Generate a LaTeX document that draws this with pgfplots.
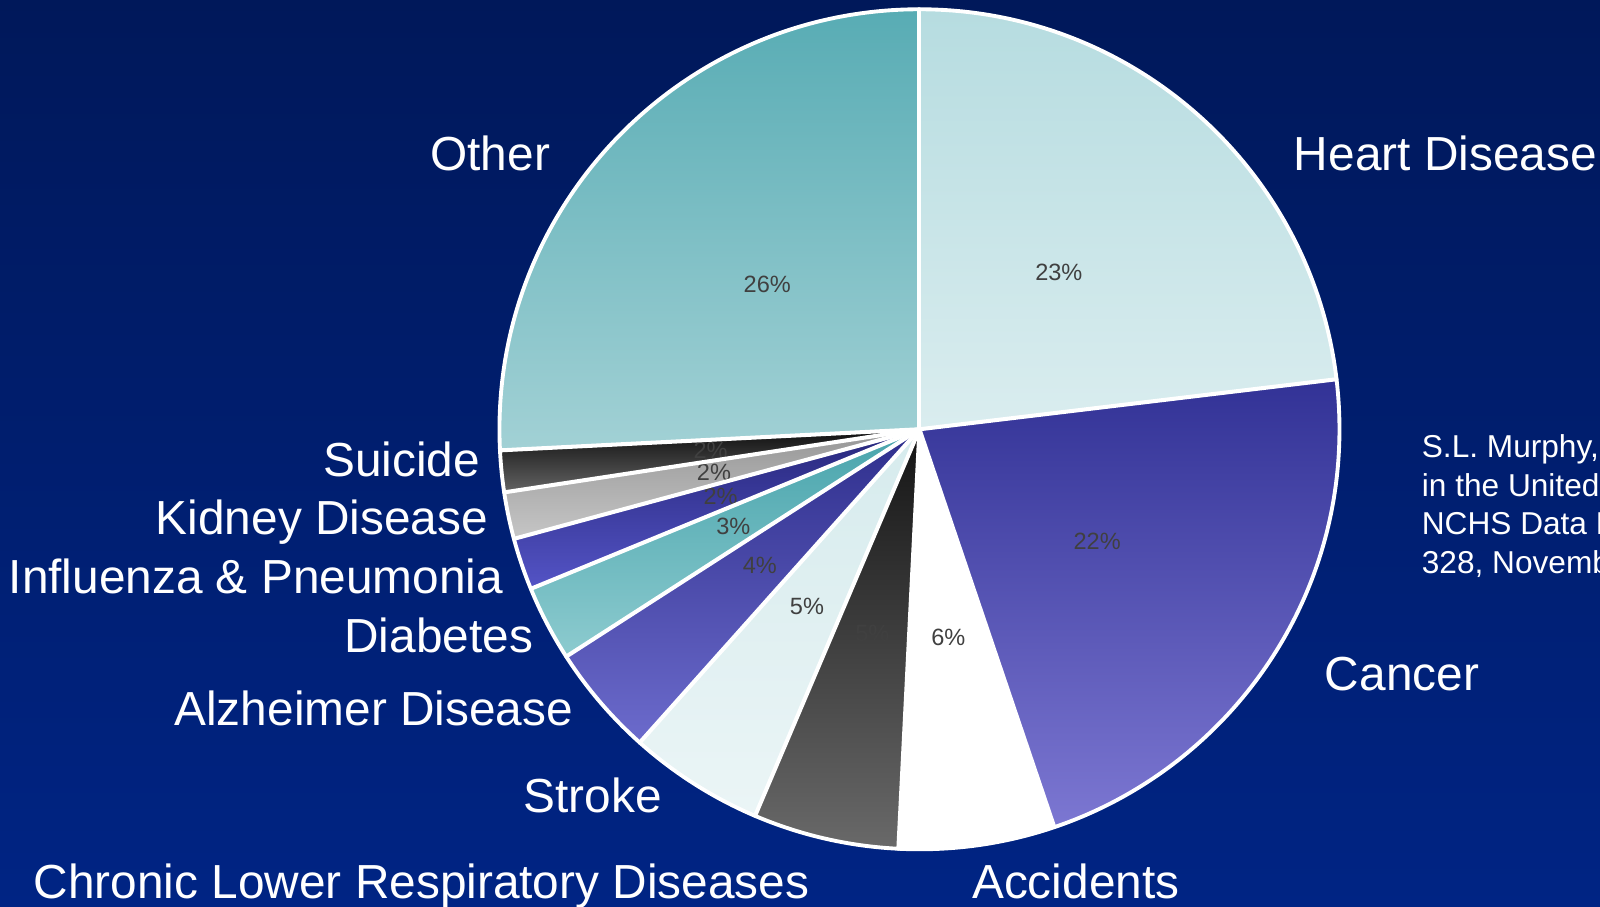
\documentclass[border=0pt]{standalone}
\usepackage{pgfplots}
\pgfplotsset{compat=1.18}
\usepackage{pgfplotstable}
\usepackage{fontspec}
\setmainfont{Liberation Sans}

\definecolor{bgtop}{HTML}{00185A}
\definecolor{bgbot}{HTML}{002484}
\definecolor{heartT}{HTML}{B6DCE0}\definecolor{heartB}{HTML}{DAEDEF}
\definecolor{cancerT}{HTML}{323296}\definecolor{cancerB}{HTML}{7C77D2}
\definecolor{accT}{HTML}{FFFFFF}\definecolor{accB}{HTML}{FFFFFF}
\definecolor{clrdT}{HTML}{141414}\definecolor{clrdB}{HTML}{696969}
\definecolor{strokeT}{HTML}{D6EBED}\definecolor{strokeB}{HTML}{EBF5F6}
\definecolor{alzT}{HTML}{2E2E8C}\definecolor{alzB}{HTML}{6C6BCC}
\definecolor{diabT}{HTML}{48A4AC}\definecolor{diabB}{HTML}{8DCBCF}
\definecolor{fluT}{HTML}{26267A}\definecolor{fluB}{HTML}{5454C6}
\definecolor{kidT}{HTML}{969696}\definecolor{kidB}{HTML}{C6C6C6}
\definecolor{suiT}{HTML}{0E0E0E}\definecolor{suiB}{HTML}{646464}
\definecolor{otherT}{HTML}{58ACB4}\definecolor{otherB}{HTML}{A2D1D5}
\definecolor{pctcol}{HTML}{404040}

% value = share of deaths (%), pct = printed label, col = colour key
\pgfplotstableread[col sep=comma]{
value,pct,col
23.1,23,heart
21.7,22,cancer
6.0,6,acc
5.6,5,clrd
5.2,5,stroke
4.3,4,alz
2.9,3,diab
2.0,2,flu
1.8,2,kid
1.6,2,sui
25.8,26,other
}\piedata

\tikzset{
  catlabel/.style={inner sep=0pt, text=white, font=\fontsize{13.6}{16}\selectfont},
  pctlabel/.style={inner sep=0pt, text=pctcol, font=\fontsize{6.7}{8}\selectfont},
  citelabel/.style={inner sep=0pt, text=white, font=\fontsize{9}{11}\selectfont, anchor=base west},
}

\begin{document}
\xdef\cumangle{90}%
\gdef\slicefills{}%
\gdef\slicelines{}%
\gdef\slicelabels{}%
\pgfplotstablegetrowsof{\piedata}%
\pgfmathtruncatemacro\lastrow{\pgfplotsretval-1}%
\foreach \i in {0,...,\lastrow}{%
  \pgfplotstablegetelem{\i}{value}\of\piedata
  \pgfmathsetmacro\aend{\cumangle-3.6*\pgfplotsretval}%
  \pgfmathsetmacro\amid{(\cumangle+\aend)/2}%
  \pgfplotstablegetelem{\i}{pct}\of\piedata
  \edef\pct{\pgfplotsretval}%
  \pgfplotstablegetelem{\i}{col}\of\piedata
  \edef\col{\pgfplotsretval}%
  \xdef\slicefills{\unexpanded\expandafter{\slicefills}%
    \noexpand\path[top color=\col T, bottom color=\col B] (axis cs:920,477) -- ++(\cumangle:4.2cm) arc[start angle=\cumangle, end angle=\aend, radius=4.2cm] -- cycle;}%
  \xdef\slicelines{\unexpanded\expandafter{\slicelines}%
    \noexpand\draw[white, line width=1.15pt, line cap=round] (axis cs:920,477) -- ++(\cumangle:4.2cm);}%
  \xdef\slicelabels{\unexpanded\expandafter{\slicelabels}%
    \noexpand\path (axis cs:920,477) ++(\amid:2.1cm) node[pctlabel] {\pct\noexpand\%};}%
  \xdef\cumangle{\aend}%
}%
\begin{tikzpicture}
\useasboundingbox (0,0) rectangle (16,9.06);
\clip (0,0) rectangle (16,9.06);
\shade[top color=bgtop, bottom color=bgbot] (0,0) rectangle (16,9.06);
\begin{axis}[at={(0,0)}, anchor=south west, x=0.01cm, y=0.01cm,
  xmin=0, xmax=1600, ymin=0, ymax=906, hide axis, clip=false]
\slicefills
\slicelabels
\slicelines
\draw[white, line width=1.1pt] (axis cs:920,477) ++(90:4.2cm) arc[start angle=90, end angle=-270, radius=4.2cm];
% category names
\node[catlabel, anchor=base east] at (axis cs:551,736) {Other};
\node[catlabel, anchor=base west] at (axis cs:1294,736) {Heart Disease};
\node[catlabel, anchor=base west] at (axis cs:1325,216) {Cancer};
\node[catlabel, anchor=base west] at (axis cs:972,8) {Accidents};
\node[catlabel, anchor=base west] at (axis cs:33,8) {Chronic Lower Respiratory Diseases};
\node[catlabel, anchor=base east] at (axis cs:663,94) {Stroke};
\node[catlabel, anchor=base east] at (axis cs:574,181) {Alzheimer Disease};
\node[catlabel, anchor=base east] at (axis cs:534,254) {Diabetes};
\node[catlabel, anchor=base east] at (axis cs:504,313) {Influenza \& Pneumonia};
\node[catlabel, anchor=base east] at (axis cs:489,372) {Kidney Disease};
\node[catlabel, anchor=base east] at (axis cs:481,430) {Suicide};
% source (runs off the right edge, as in the original slide)
\node[citelabel] at (axis cs:1422,449) {S.L. Murphy, et al., Mortality};
\node[citelabel] at (axis cs:1422,410) {in the United States, 2017,};
\node[citelabel] at (axis cs:1422,372) {NCHS Data Brief, No.};
\node[citelabel] at (axis cs:1422,333) {328, November 2018};
\end{axis}
\end{tikzpicture}
\end{document}
